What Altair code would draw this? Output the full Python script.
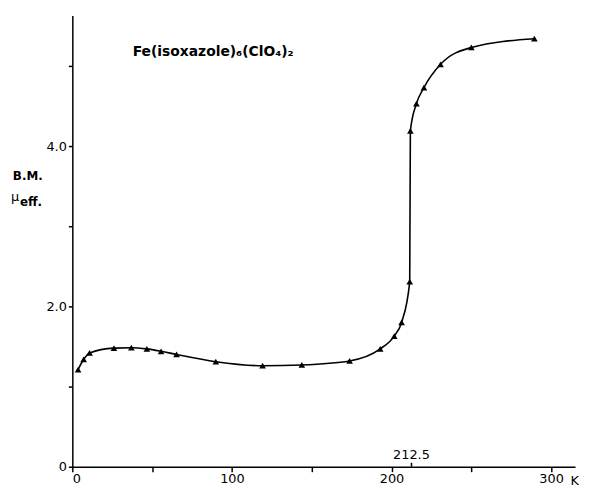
import altair as alt
import pandas as pd

# Temperature (K) and effective magnetic moment (B.M.)
temps = [3.6, 7.1, 10.8, 26.1, 37.0, 46.7, 55.6, 65.3, 89.9, 119.2, 143.8,
         173.7, 192.9, 201.7, 206.3, 211.4, 211.8, 215.6, 220.3, 230.7, 250.0, 289.5]
mu_eff = [1.21, 1.34, 1.42, 1.48, 1.485, 1.47, 1.44, 1.40, 1.31, 1.26, 1.27,
          1.32, 1.47, 1.63, 1.80, 2.31, 4.19, 4.53, 4.73, 5.02, 5.23, 5.34]

x_ticks = [0, 50, 100, 150, 200, 250, 300]
y_ticks = [0, 1, 2, 3, 4, 5]
transition = [212.5]

FONT = "DejaVu Sans"
W, H = 508, 456

df = pd.DataFrame({"T": temps, "mu": mu_eff})

xscale = alt.Scale(domain=[0, 315], nice=False, zero=False)
yscale = alt.Scale(domain=[0, 5.63], nice=False)

xaxis = alt.Axis(values=x_ticks, grid=False, domainColor="black", domainWidth=1.5,
                 tickColor="black", tickWidth=1.5, tickSize=5,
                 labelExpr="datum.value % 100 == 0 ? datum.label : ''",
                 labelFont=FONT, labelFontSize=13, labelColor="black", labelPadding=1,
                 title="K", titleFont=FONT, titleFontSize=13, titleFontWeight="normal",
                 titleAnchor="start", titleAlign="left", titleX=503, titleY=14,
                 titleBaseline="middle", titleColor="black")
yaxis = alt.Axis(values=y_ticks, grid=False, domainColor="black", domainWidth=1.5,
                 tickColor="black", tickWidth=1.5, tickSize=4,
                 labelExpr="datum.value == 0 ? '0' : (datum.value % 2 == 0 ? format(datum.value, '.1f') : '')",
                 labelFont=FONT, labelFontSize=13, labelColor="black", labelPadding=2,
                 title=None)

base = alt.Chart(df)

line = base.mark_line(interpolate="monotone", color="black", strokeWidth=1.6).encode(
    x=alt.X("T:Q", scale=xscale, axis=xaxis),
    y=alt.Y("mu:Q", scale=yscale, axis=yaxis),
)
pts = base.mark_point(shape="triangle-up", filled=True, color="black", size=45, opacity=1).encode(
    x="T:Q", y="mu:Q"
)

tr = pd.DataFrame({"T": transition, "lab": ["212.5"]})
tr_tick = alt.Chart(tr).mark_rule(color="black", strokeWidth=1.5).encode(
    x="T:Q", y=alt.value(H - 4), y2=alt.value(H)
)
tr_text = alt.Chart(tr).mark_text(font=FONT, fontSize=13, color="black", baseline="middle").encode(
    x="T:Q", y=alt.value(H - 12), text="lab:N"
)

one = alt.Data(values=[{"a": 1}])
compound = alt.Chart(one).mark_text(
    text="Fe(isoxazole)\u2086(ClO\u2084)\u2082", font=FONT, fontSize=14, fontWeight="bold",
    align="left", baseline="middle", color="black"
).encode(x=alt.value(61), y=alt.value(37))
bm = alt.Chart(one).mark_text(
    text="B.M.", font=FONT, fontSize=12, fontWeight="bold", align="center",
    baseline="middle", color="black"
).encode(x=alt.value(-45), y=alt.value(162))
mu = alt.Chart(one).mark_text(
    text="\u03bc", font=FONT, fontSize=13, fontWeight="normal", align="left",
    baseline="middle", color="black"
).encode(x=alt.value(-62), y=alt.value(183))
eff = alt.Chart(one).mark_text(
    text="eff.", font=FONT, fontSize=12, fontWeight="bold", align="left",
    baseline="middle", color="black"
).encode(x=alt.value(-53), y=alt.value(189))

chart = alt.layer(line, pts, tr_tick, tr_text, compound, bm, mu, eff).properties(
    width=W, height=H,
    autosize=alt.AutoSizeParams(type="none"),
    padding={"left": 65, "top": 5, "right": 7, "bottom": 20},
    background="white",
).configure_view(stroke=None)

chart.save("out.html", embed_options={"renderer": "svg", "actions": False})
